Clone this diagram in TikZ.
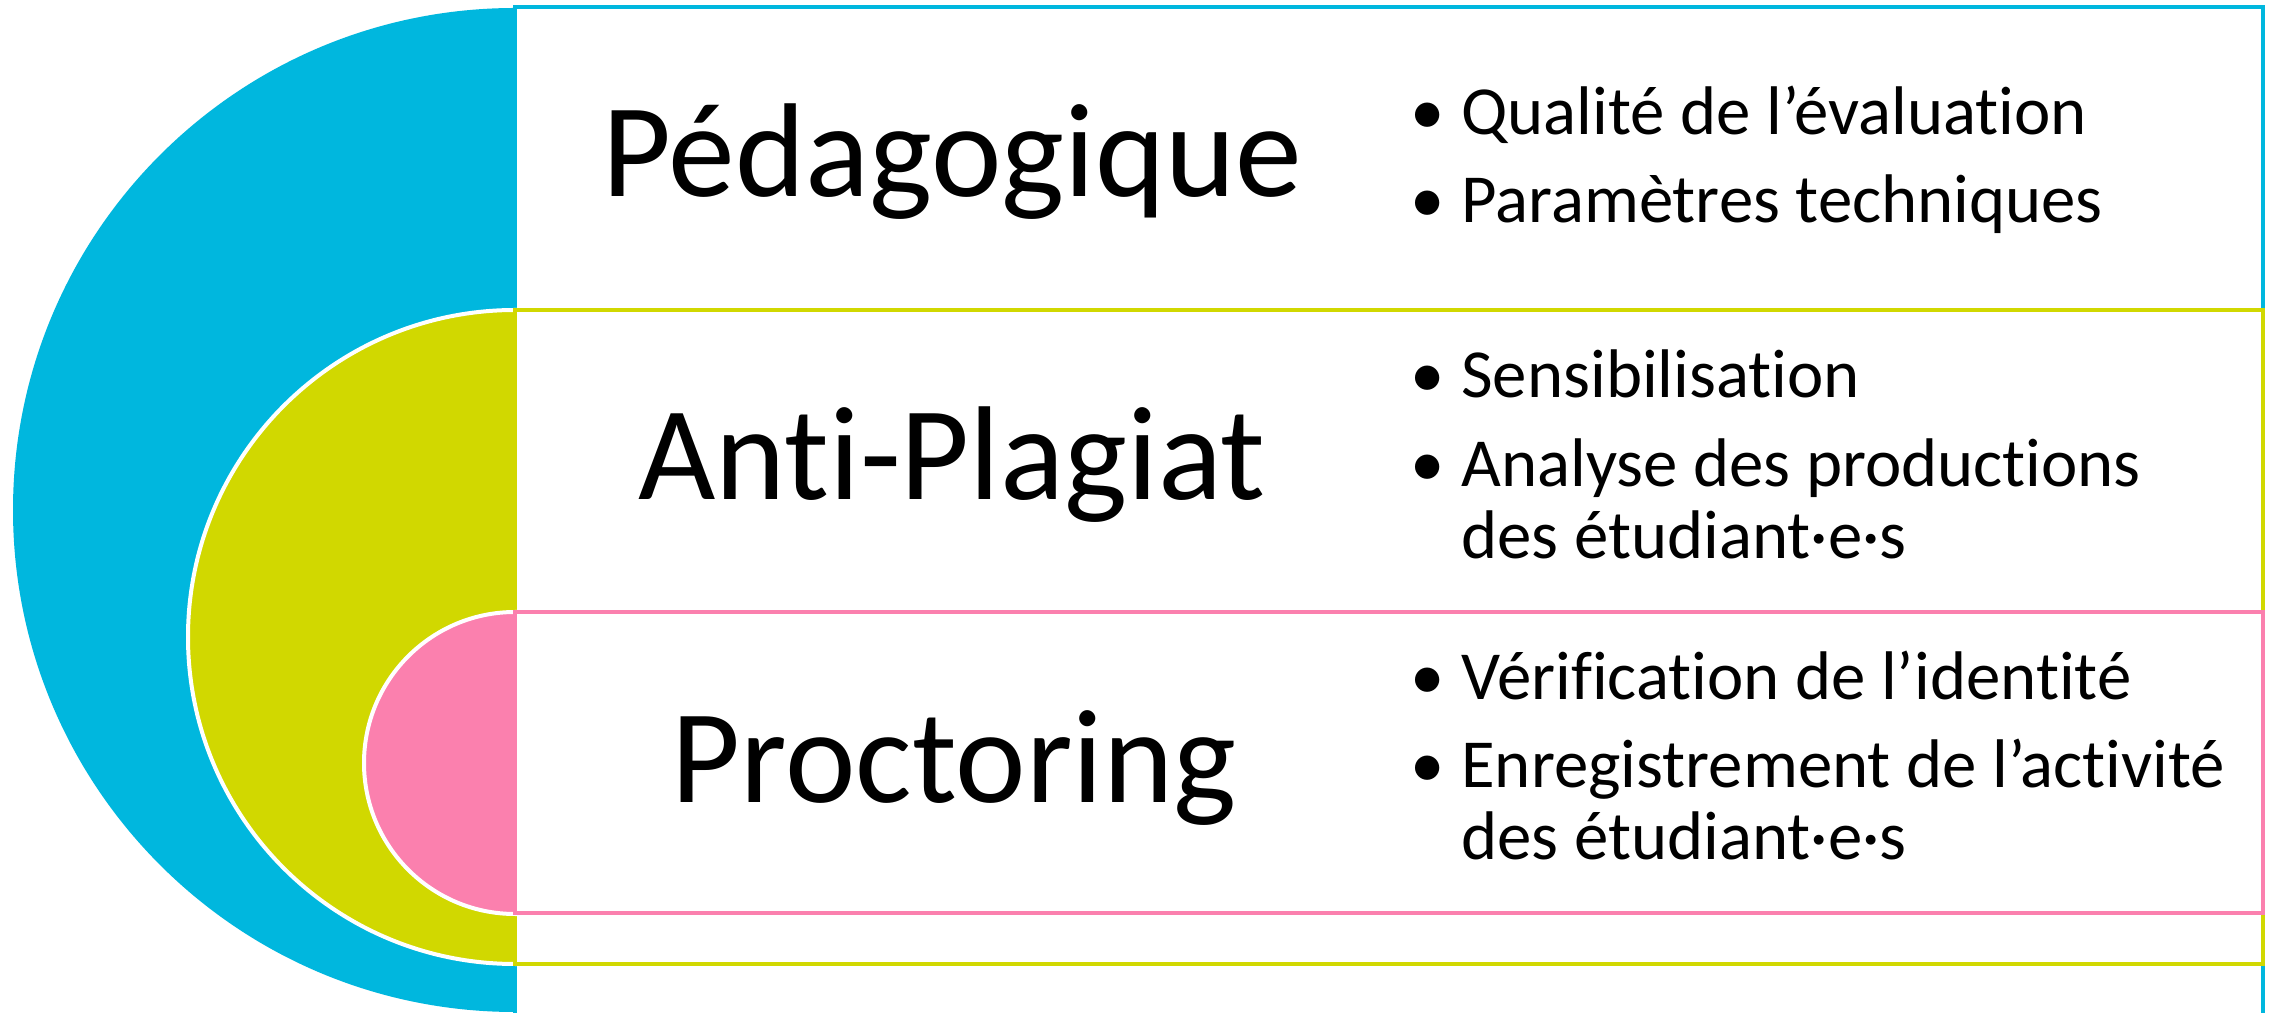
\documentclass[tikz,border=0pt]{standalone}
\usepackage{fontspec}
\setmainfont{Carlito}[RawFeature={-liga;-clig;-calt;-dlig}]
\definecolor{cblue}{RGB}{0,183,222}
\definecolor{cyel}{RGB}{209,216,0}
\definecolor{cpink}{RGB}{251,128,174}
\begin{document}
\begin{tikzpicture}[x=0.5pt,y=0.5pt,
  band/.style={fill=white,line width=2.25pt},
  disc/.style={draw=white,line width=2pt},
  big/.style={font=\fontsize{66.8}{70}\selectfont,anchor=base,inner sep=0pt},
  item/.style={font=\fontsize{34.4}{36}\selectfont,anchor=base west,inner sep=0pt},
  bul/.style={font=\fontsize{34.4}{36}\selectfont,anchor=base,inner sep=0pt}]
\clip (0,0) rectangle (2270,1012);
\fill[white] (0,0) rectangle (2270,1012);
% blue level
\fill[cblue] (515,1004) arc[start angle=90,end angle=270,radius=502] -- cycle;
\draw[band,draw=cblue] (515,1005) rectangle (2263,-20);
% yellow level
\draw[disc,fill=cyel] (515,702) arc[start angle=90,end angle=270,radius=327] -- cycle;
\draw[band,draw=cyel] (515,702) rectangle (2263,48);
% pink level
\draw[disc,fill=cpink] (515,400) arc[start angle=90,end angle=270,radius=151] -- cycle;
\draw[band,draw=cpink] (515,400) rectangle (2263,99);
% titles
\node[big] (t1) at (952,815) {Pédagogique};
\node[big] (t2) at (952,512) {Anti-Plagiat};
\node[big] (t3) at (954,209) {Proctoring};
% bullets
\node[bul] (b1) at (1428,877) {•};
\node[item] (i1) at (1461,877) {Qualité de l’évaluation};
\node[bul] (b2) at (1428,789) {•};
\node[item] (i2) at (1461,789) {Paramètres techniques};
\node[bul] (b3) at (1428,614) {•};
\node[item] (i3) at (1461,614) {Sensibilisation};
\node[bul] (b4) at (1428,525) {•};
\node[item] (i4) at (1461,525) {Analyse des productions};
\node[item] (i4b) at (1461,453) {des étudiant·e·s};
\node[bul] (b5) at (1428,312) {•};
\node[item] (i5) at (1461,312) {Vérification de l’identité};
\node[bul] (b6) at (1428,224) {•};
\node[item] (i6) at (1461,224) {Enregistrement de l’activité};
\node[item] (i6b) at (1461,152) {des étudiant·e·s};
\end{tikzpicture}
\end{document}
